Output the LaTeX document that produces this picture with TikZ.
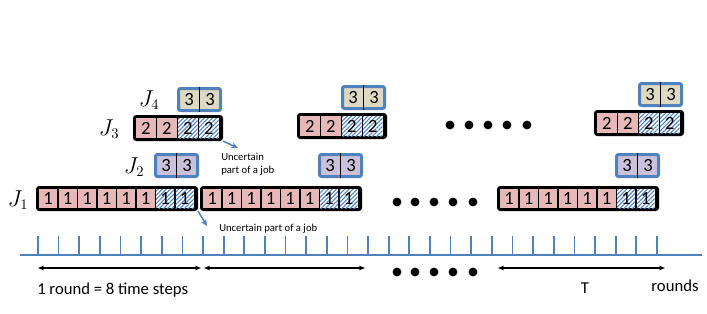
\documentclass[tikz,border=0pt]{standalone}
\usepackage{fontspec}
\setmainfont{Carlito}
\usepackage{tikz}
\usetikzlibrary{calc, positioning, arrows.meta, fit, patterns.meta}
\usepackage{xcolor}
\definecolor{jobPink}{RGB}{230, 185, 184}
\definecolor{jobLilac}{RGB}{204, 193, 218}
\definecolor{jobSand}{RGB}{221, 217, 195}
\definecolor{jobBlue}{RGB}{79, 129, 189}

\tikzset{
  jobbox/.style={draw=black, fill=black, line width=2.25pt, rounded corners=1.5pt, inner sep=0pt},
  slotbox/.style={draw=jobBlue, line width=2.25pt, rounded corners=1.5pt, inner sep=0pt},
  pinkcell/.style={fill=jobPink},
  hatchcell/.style={preaction={fill=white}, pattern={Lines[angle=45, distance=2.2pt, line width=0.8pt]}, pattern color=jobBlue},
  celltxt/.style={font=\fontsize{14}{14}\selectfont, inner sep=0pt},
  jlabel/.style={font=\fontsize{16}{18}\selectfont, inner sep=0pt},
  note/.style={font=\fontsize{8}{9.8}\selectfont, inner sep=0pt, align=left},
  divider/.style={black, line width=1.1pt},
  tick/.style={jobBlue, line width=1.3pt},
  uarrow/.style={jobBlue, line width=1.1pt, -{Stealth[length=5pt, width=4.5pt]}},
  spanarrow/.style={black, line width=0.9pt, {Stealth[length=4.5pt, width=3.5pt]}-{Stealth[length=4.5pt, width=3.5pt]}}
}

\begin{document}
\begin{tikzpicture}[x=0.75pt, y=-0.75pt]
  \useasboundingbox (0,0) rectangle (707,314);

  % J1 rounds
  \foreach \ox/\k in {0/a, 164/b, 461/c} {
    \node[jobbox, fit={({37.5+\ox},187.5) ({196.5+\ox},209.5)}] (j1\k) {};
    \foreach \i in {0,...,5}
      \path[pinkcell] ({39+\ox+19.5*\i},189) rectangle node[celltxt] (c1\k\i) {1} ++(18,19);
    \foreach \i in {6,7}
      \path[hatchcell] ({39+\ox+19.5*\i},189) rectangle node[celltxt] (c1\k\i) {1} ++(18,19);
  }

  % J2 rounds
  \foreach \ox/\k in {0/a, 164/b, 461/c} {
    \node[slotbox, fill=jobLilac, fit={({155.5+\ox},154.5) ({197.5+\ox},176.5)}] (j2\k) {};
    \draw[divider] (j2\k.north) -- (j2\k.south);
    \node[celltxt] (c2\k l) at ({166+\ox},165.5) {3};
    \node[celltxt] (c2\k r) at ({187+\ox},165.5) {3};
  }

  % J3 and J4 rounds
  \foreach \ox/\oy/\k in {0/0/a, 164/-2/b, 461/-5/c} {
    \node[jobbox, fit={({134.5+\ox},{116.5+\oy}) ({221.5+\ox},{139.5+\oy})}] (j3\k) {};
    \foreach \i in {0,1}
      \path[pinkcell] ({136+\ox+21*\i},{118+\oy}) rectangle node[celltxt] (c3\k\i) {2} ++(19.5,20);
    \foreach \i in {2,3}
      \path[hatchcell] ({136+\ox+21*\i},{118+\oy}) rectangle node[celltxt] (c3\k\i) {2} ++(19.5,20);
    \node[slotbox, fill=jobSand, fit={({178.5+\ox},{88.5+\oy}) ({220.5+\ox},{110.5+\oy})}] (j4\k) {};
    \draw[divider] (j4\k.north) -- (j4\k.south);
    \node[celltxt] (c4\k l) at ({189+\ox},{99.5+\oy}) {3};
    \node[celltxt] (c4\k r) at ({210+\ox},{99.5+\oy}) {3};
  }

  % job labels
  \node[jlabel] (lab1) at (18,200) {$J_1$};
  \node[jlabel] (lab2) at (134,167) {$J_2$};
  \node[jlabel] (lab3) at (109,129) {$J_3$};
  \node[jlabel] (lab4) at (149,100) {$J_4$};

  % dots
  \foreach \x in {450, 469, 488, 507, 527}
    \fill (\x,125) circle (3.3pt);
  \foreach \x in {397, 415, 434, 453, 473}
    \fill (\x,202) circle (3.3pt);
  \foreach \x in {397, 415, 434, 453, 473}
    \fill (\x,272) circle (3.3pt);

  % uncertain parts
  \node[note, anchor=west] (unc1) at (221,164) {Uncertain\\part of a job};
  \coordinate (unc1tip) at (238,148);
  \draw[uarrow] (j3a.south east) -- (unc1tip);
  \node[note, anchor=west] (unc2) at (219,229) {Uncertain part of a job};
  \coordinate (unc2tip) at (207,226);
  \draw[uarrow] (j1a.south east) -- (unc2tip);

  % time line
  \coordinate (tl0) at (20,255);
  \coordinate (tl1) at (702,255);
  \draw[jobBlue, line width=1.8pt] (tl0) -- (tl1);
  \foreach \t in {0,...,30}
    \draw[tick] ({38+20.63*\t},255) -- ++(0,-19);

  % rounds
  \coordinate (r1a) at (38,268);
  \coordinate (r1b) at (201,268);
  \coordinate (r2a) at (204,268);
  \coordinate (r2b) at (365,268);
  \coordinate (r3a) at (498,268);
  \coordinate (r3b) at (665,268);
  \draw[spanarrow] (r1a) -- (r1b);
  \draw[spanarrow] (r2a) -- (r2b);
  \draw[spanarrow] (r3a) -- (r3b);
  \node[font=\fontsize{12.5}{14}\selectfont, anchor=west, inner sep=0pt] (roundtxt) at (37,290) {1 round = 8 time steps};
  \node[font=\fontsize{12.5}{14}\selectfont, inner sep=0pt] (ttxt) at (585,288) {T};
  \node[font=\fontsize{12.5}{14}\selectfont, inner sep=0pt] (roundstxt) at (675,286) {rounds};
\end{tikzpicture}
\end{document}
